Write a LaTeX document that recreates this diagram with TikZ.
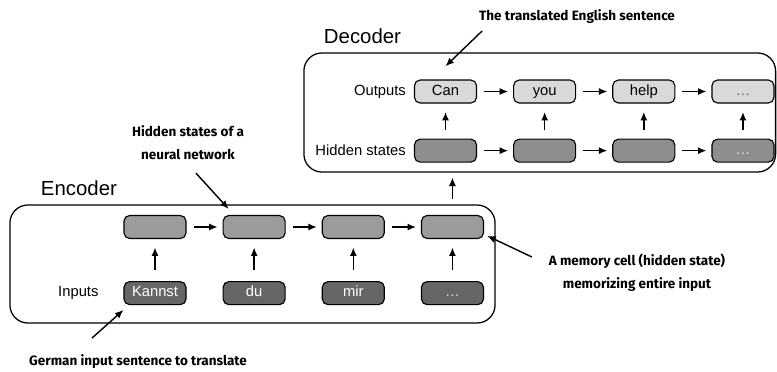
\documentclass[tikz,border=0pt]{standalone}
\usepackage{fontspec}
\setmainfont{Liberation Sans}
\newfontfamily\notefont{Fira Sans}
\usetikzlibrary{positioning, arrows.meta}

\definecolor{enchid}{HTML}{9B9B9B}
\definecolor{encin}{HTML}{666666}
\definecolor{decout}{HTML}{D9D9D9}
\definecolor{dechid}{HTML}{8E8E8E}

\begin{document}
\begin{tikzpicture}[
    x=0.025cm, y=-0.025cm,
    node distance=1.05cm and 0.9cm,
    cell/.style={draw, rectangle, rounded corners=4pt, line width=0.8pt, minimum width=1.55cm, minimum height=0.575cm, inner sep=0pt, text height=7.6pt, text depth=2.2pt, font=\fontsize{10.5}{12}\selectfont},
    frame/.style={draw, rectangle, rounded corners=0.45cm, line width=0.9pt},
    lbl/.style={font=\fontsize{10.5}{12}\selectfont},
    title/.style={font=\fontsize{14.5}{16}\selectfont},
    note/.style={font=\notefont\bfseries\fontsize{9.6}{16.5}\selectfont, align=center},
    arrow/.style={-{Latex[length=6pt,width=5pt]}, line width=1pt}
]
    \useasboundingbox (0,0) rectangle (777,371);

    % Frames
    \node[frame, minimum width=12.125cm, minimum height=2.95cm] (enc) at (252.5,264) {};
    \node[frame, minimum width=11.79cm, minimum height=2.975cm] (dec) at (539.75,112.5) {};
    \node[title, anchor=west] (enctitle) at (36,188) {Encoder};
    \node[title, anchor=west] (dectitle) at (319,36) {Decoder};

    % Encoder (hidden states and inputs)
    \node[cell, fill=enchid] (h1) at (155,227) {};
    \node[cell, fill=enchid, right=of h1] (h2) {};
    \node[cell, fill=enchid, right=of h2] (h3) {};
    \node[cell, fill=enchid, right=of h3] (h4) {};
    \node[cell, fill=encin, text=white, below=of h1] (in1) {Kannst};
    \node[cell, fill=encin, text=white, below=of h2] (in2) {du};
    \node[cell, fill=encin, text=white, below=of h3] (in3) {mir};
    \node[cell, fill=encin, text=gray!30, below=of h4] (in4) {\ldots};
    \node[lbl, left=0.5cm of in1] (inlbl) {Inputs};

    % Decoder (outputs and hidden states)
    \node[cell, fill=decout] (out1) at (445.5,91.5) {Can};
    \node[cell, fill=decout, right=of out1] (out2) {you};
    \node[cell, fill=decout, right=of out2] (out3) {help};
    \node[cell, fill=decout, text=gray!80!black, right=of out3] (out4) {\ldots};
    \node[cell, fill=dechid, below=0.875cm of out1] (dh1) {};
    \node[cell, fill=dechid, right=of dh1] (dh2) {};
    \node[cell, fill=dechid, right=of dh2] (dh3) {};
    \node[cell, fill=dechid, text=gray!25, right=of dh3] (dh4) {\ldots};
    \node[lbl, left=0.08cm of out1] (outlbl) {Outputs};
    \node[lbl, left=0.08cm of dh1] (hidlbl) {Hidden states};

    % Arrows
    \draw[arrow] ([xshift=5pt]h1.east) -- ([xshift=-3.5pt]h2.west);
    \draw[arrow] ([xshift=5pt]h2.east) -- ([xshift=-3.5pt]h3.west);
    \draw[arrow] ([xshift=5pt]h3.east) -- ([xshift=-3.5pt]h4.west);
    \draw[arrow] ([yshift=8pt]in1.north) -- ([yshift=-6pt]h1.south);
    \draw[arrow] ([yshift=8pt]in2.north) -- ([yshift=-6pt]h2.south);
    \draw[arrow] ([yshift=8pt]in3.north) -- ([yshift=-6pt]h3.south);
    \draw[arrow] ([yshift=8pt]in4.north) -- ([yshift=-6pt]h4.south);

    \draw[arrow] ([xshift=5pt]out1.east) -- ([xshift=-3.5pt]out2.west);
    \draw[arrow] ([xshift=5pt]out2.east) -- ([xshift=-3.5pt]out3.west);
    \draw[arrow] ([xshift=5pt]out3.east) -- ([xshift=-3.5pt]out4.west);
    \draw[arrow] ([xshift=5pt]dh1.east) -- ([xshift=-3.5pt]dh2.west);
    \draw[arrow] ([xshift=5pt]dh2.east) -- ([xshift=-3.5pt]dh3.west);
    \draw[arrow] ([xshift=5pt]dh3.east) -- ([xshift=-3.5pt]dh4.west);
    \draw[arrow] ([yshift=6pt]dh1.north) -- ([yshift=-6pt]out1.south);
    \draw[arrow] ([yshift=6pt]dh2.north) -- ([yshift=-6pt]out2.south);
    \draw[arrow] ([yshift=6pt]dh3.north) -- ([yshift=-6pt]out3.south);
    \draw[arrow] ([yshift=6pt]dh4.north) -- ([yshift=-6pt]out4.south);

    % Encoder to decoder
    \draw[arrow] ([yshift=3.5pt]enc.north -| h4) -- ([yshift=-3.5pt]dec.south -| h4);

    % Notes
    \node[note] (transnote) at (577,17) {The translated English sentence};
    \node[note] (hidnote) at (188,143) {Hidden states of a\\neural network};
    \node[note] (memnote) at (637,273) {A memory cell (hidden state)\\memorizing entire input};
    \node[note] (gernote) at (138,362) {German input sentence to translate};

    \draw[arrow] ([xshift=0.2cm,yshift=-0.05cm]transnote.south west) -- ([yshift=0.33cm]out1.north);
    \draw[arrow] ([xshift=0.2cm,yshift=-0.2cm]hidnote.south) -- ([xshift=0.15cm,yshift=0.15cm]h2.north west);
    \draw[arrow] ([xshift=-0.3cm,yshift=0.4cm]memnote.west) -- ([xshift=0.08cm,yshift=0.08cm]h4.south east);
    \draw[arrow] ([xshift=-1.15cm,yshift=0.3cm]gernote.north) -- ([yshift=-0.12cm]in1.south west);
\end{tikzpicture}
\end{document}
